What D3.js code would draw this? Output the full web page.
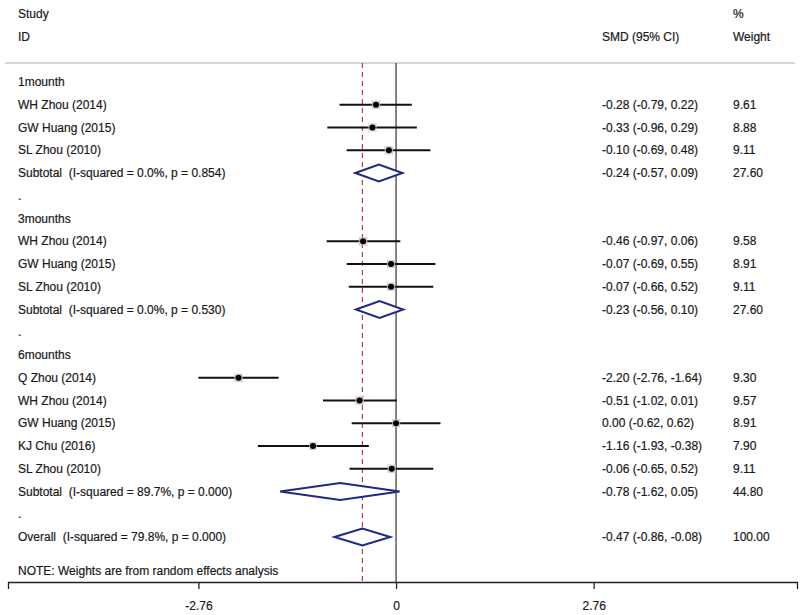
<!DOCTYPE html>
<html>
<head>
<meta charset="utf-8">
<script src="https://cdn.jsdelivr.net/npm/d3@7"></script>
<style>
  body { margin: 0; background: #fff; }
  text { font-family: "Liberation Sans", Arial, sans-serif; font-size: 12px; fill: #1a1a1a;
         stroke: #1a1a1a; stroke-width: 0.2px; white-space: pre; }
</style>
</head>
<body>
<div id="chart"></div>
<script>
// row labels, top to bottom
const labels = [
  "1mounth", "WH Zhou (2014)", "GW Huang (2015)", "SL Zhou (2010)",
  "Subtotal  (I-squared = 0.0%, p = 0.854)", ".",
  "3mounths", "WH Zhou (2014)", "GW Huang (2015)", "SL Zhou (2010)",
  "Subtotal  (I-squared = 0.0%, p = 0.530)", ".",
  "6mounths", "Q Zhou (2014)", "WH Zhou (2014)", "GW Huang (2015)", "KJ Chu (2016)", "SL Zhou (2010)",
  "Subtotal  (I-squared = 89.7%, p = 0.000)", ".",
  "Overall  (I-squared = 79.8%, p = 0.000)"
];
// kind of each row: h = header, s = study, d = diamond, b = blank
const kinds = ["h","s","s","s","d","b","h","s","s","s","d","b","h","s","s","s","s","s","d","b","d"];

const smd   = [null,-0.28,-0.33,-0.10,-0.24,null,null,-0.46,-0.07,-0.07,-0.23,null,null,-2.20,-0.51,0.00,-1.16,-0.06,-0.78,null,-0.47];
const lower = [null,-0.79,-0.96,-0.69,-0.57,null,null,-0.97,-0.69,-0.66,-0.56,null,null,-2.76,-1.02,-0.62,-1.93,-0.65,-1.62,null,-0.86];
const upper = [null, 0.22, 0.29, 0.48, 0.09,null,null, 0.06, 0.55, 0.52, 0.10,null,null,-1.64, 0.01, 0.62,-0.38, 0.52, 0.05,null,-0.08];
const weight = [null,"9.61","8.88","9.11","27.60",null,null,"9.58","8.91","9.11","27.60",null,null,"9.30","9.57","8.91","7.90","9.11","44.80",null,"100.00"];

const overall = -0.47;
const tickValues = [-2.76, 0, 2.76];
const tickLabels = ["-2.76", "0", "2.76"];

const W = 800, H = 615;
const svg = d3.select("#chart").append("svg").attr("width", W).attr("height", H);

const x = d3.scaleLinear().domain([-5.42, 5.6]).range([8, 797]);
const rowY = i => 82 + i * 22.75;
const topY = 63, axisY = 582;
// plain hyphen instead of the unicode minus d3.format gives
const fmt = v => v.toFixed(2);

// header
svg.append("text").attr("x", 18).attr("y", 18).text("Study");
svg.append("text").attr("x", 18).attr("y", 41).text("ID");
svg.append("text").attr("x", 602).attr("y", 41).text("SMD (95% CI)");
svg.append("text").attr("x", 733).attr("y", 18).text("%");
svg.append("text").attr("x", 733).attr("y", 41).text("Weight");

svg.append("line")
  .attr("x1", 5).attr("x2", 795).attr("y1", topY).attr("y2", topY)
  .attr("stroke", "#c8c8c8").attr("stroke-width", 1.5);

// null line and overall line
svg.append("line")
  .attr("x1", x(0)).attr("x2", x(0)).attr("y1", topY).attr("y2", axisY)
  .attr("stroke", "#333").attr("stroke-width", 1.2);
svg.append("line")
  .attr("x1", x(overall)).attr("x2", x(overall)).attr("y1", topY).attr("y2", axisY)
  .attr("stroke", "#b5403f").attr("stroke-width", 1.2).attr("stroke-dasharray", "5,4");

// left labels
svg.selectAll("text.lab").data(labels).enter().append("text")
  .attr("class", "lab")
  .attr("x", 18)
  .attr("y", (d, i) => rowY(i) + 4)
  .text(d => d);

const rows = labels.map((d, i) => ({ i, kind: kinds[i], est: smd[i], lo: lower[i], hi: upper[i], w: weight[i] }));
const studies = rows.filter(r => r.kind === "s");
const diamonds = rows.filter(r => r.kind === "d");

// CI lines
svg.selectAll("line.ci").data(studies).enter().append("line")
  .attr("class", "ci")
  .attr("x1", d => x(d.lo)).attr("x2", d => x(d.hi))
  .attr("y1", d => rowY(d.i)).attr("y2", d => rowY(d.i))
  .attr("stroke", "#111").attr("stroke-width", 2);

// weight boxes
const side = w => 2.8 * Math.sqrt(+w);
svg.selectAll("rect.box").data(studies).enter().append("rect")
  .attr("class", "box")
  .attr("x", d => x(d.est) - side(d.w) / 2)
  .attr("y", d => rowY(d.i) - side(d.w) / 2)
  .attr("width", d => side(d.w))
  .attr("height", d => side(d.w))
  .attr("fill", "#c4c4c4").attr("opacity", 0.75);

svg.selectAll("circle.pt").data(studies).enter().append("circle")
  .attr("class", "pt")
  .attr("cx", d => x(d.est)).attr("cy", d => rowY(d.i))
  .attr("r", 3).attr("fill", "#000");

// diamonds
svg.selectAll("path.dia").data(diamonds).enter().append("path")
  .attr("class", "dia")
  .attr("d", d => {
    const y = rowY(d.i);
    return d3.line()([[x(d.lo), y], [x(d.est), y - 8.5], [x(d.hi), y], [x(d.est), y + 8.5]]) + "Z";
  })
  .attr("fill", "#fff").attr("stroke", "#1e2a80").attr("stroke-width", 2);

// right columns
const valued = rows.filter(r => r.est !== null);
svg.selectAll("text.ci").data(valued).enter().append("text")
  .attr("class", "ci")
  .attr("x", 602).attr("y", d => rowY(d.i) + 4)
  .text(d => `${fmt(d.est)} (${fmt(d.lo)}, ${fmt(d.hi)})`);
svg.selectAll("text.wt").data(valued).enter().append("text")
  .attr("class", "wt")
  .attr("x", 733).attr("y", d => rowY(d.i) + 4)
  .text(d => d.w);

svg.append("text").attr("x", 18).attr("y", 575)
  .text("NOTE: Weights are from random effects analysis");

// axis
const axis = svg.append("g")
  .attr("transform", `translate(0,${axisY})`)
  .call(d3.axisBottom(x).tickValues(tickValues).tickSizeOuter(0).tickSize(7)
    .tickFormat((d, i) => tickLabels[i]));
axis.select(".domain").attr("stroke", "#222").attr("stroke-width", 1.3);
axis.selectAll(".tick line").attr("stroke", "#222").attr("stroke-width", 1.3);
axis.selectAll(".tick text")
  .attr("y", 19)
  .style("font-family", "Liberation Sans, Arial, sans-serif")
  .style("font-size", "12px").attr("fill", "#1a1a1a");
</script>
</body>
</html>
